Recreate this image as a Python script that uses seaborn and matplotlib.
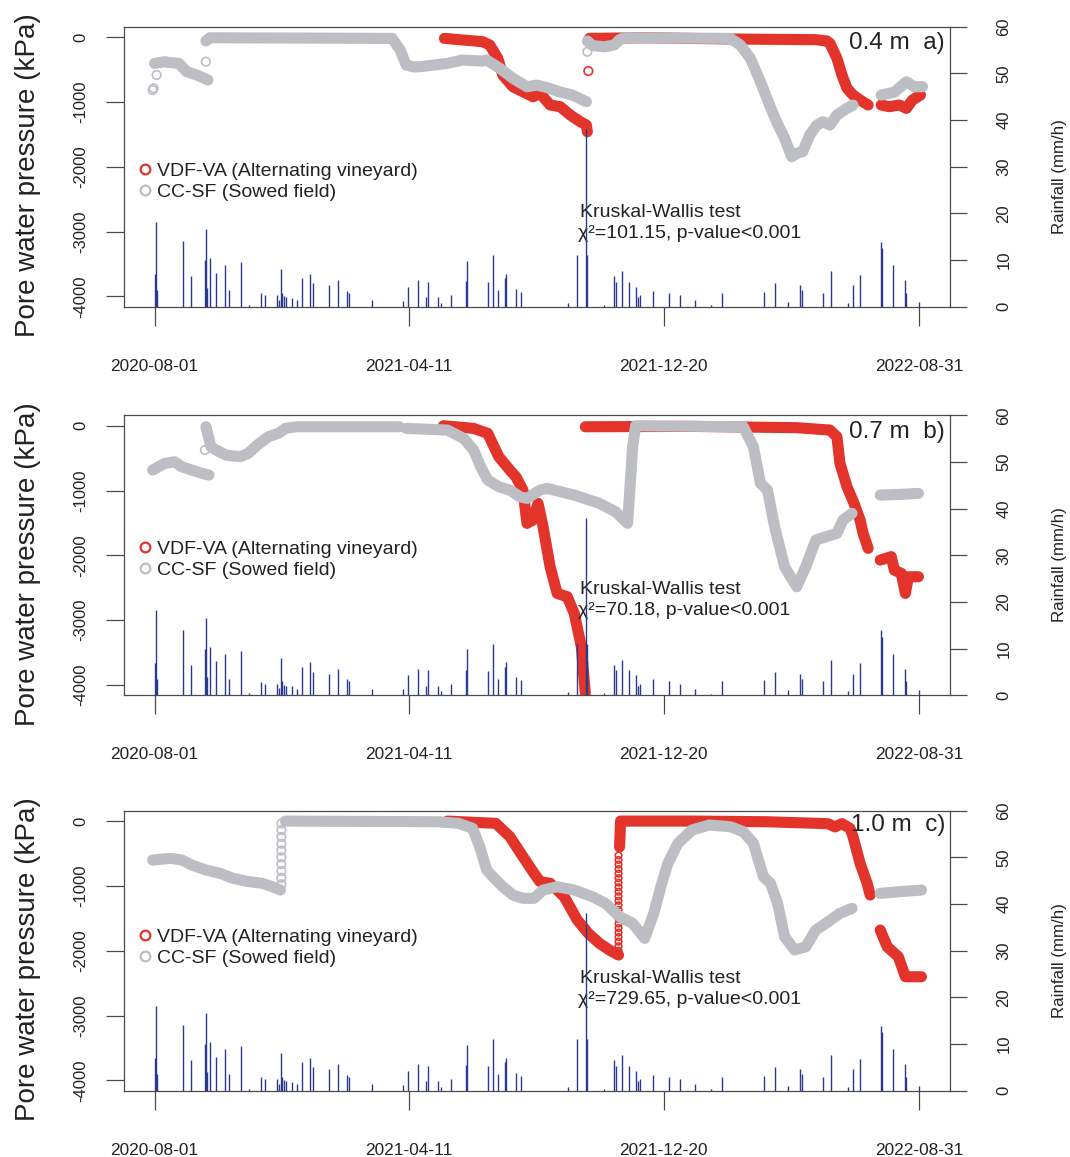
import numpy as np
import pandas as pd
import matplotlib
matplotlib.use("Agg")
import matplotlib.pyplot as plt
from matplotlib.lines import Line2D
import seaborn as sns

sns.set_theme(style="ticks")
plt.rcParams["font.family"] = ["Liberation Sans", "DejaVu Sans"]

nan = np.nan

# ---------------------------------------------------------------- labels
depth_labels = ["0.4 m  a)", "0.7 m  b)", "1.0 m  c)"]
kw_chi2 = ["101.15", "70.18", "729.65"]
series_names = ["VDF-VA (Alternating vineyard)", "CC-SF (Sowed field)"]
date_ticks = ["2020-08-01", "2021-04-11", "2021-12-20", "2022-08-31"]
kpa_ticks = [0, -1000, -2000, -3000, -4000]
rain_ticks = [0, 10, 20, 30, 40, 50, 60]

# ---------------------------------------------------------------- rainfall (mm/h)
rain_dates = [
    "2020-08-01", "2020-08-02", "2020-08-03", "2020-08-29", "2020-09-06", "2020-09-20",
    "2020-09-21", "2020-09-22", "2020-09-25", "2020-10-01", "2020-10-10", "2020-10-14",
    "2020-10-26", "2020-11-03", "2020-11-15", "2020-11-19", "2020-12-01", "2020-12-03",
    "2020-12-05", "2020-12-06", "2020-12-08", "2020-12-10", "2020-12-16", "2020-12-20",
    "2020-12-25", "2021-01-02", "2021-01-05", "2021-01-21", "2021-01-30", "2021-02-08",
    "2021-02-10", "2021-03-05", "2021-04-05", "2021-04-10", "2021-04-20", "2021-04-28",
    "2021-04-30", "2021-05-10", "2021-05-13", "2021-05-23", "2021-06-06", "2021-06-07",
    "2021-06-28", "2021-07-03", "2021-07-08", "2021-07-15", "2021-07-16", "2021-07-26",
    "2021-07-31", "2021-09-16", "2021-09-25", "2021-10-04", "2021-10-05", "2021-10-22",
    "2021-10-31", "2021-11-02", "2021-11-08", "2021-11-15", "2021-11-22", "2021-11-24",
    "2021-11-26", "2021-12-09", "2021-12-25", "2022-01-05", "2022-01-20", "2022-02-05",
    "2022-02-16", "2022-03-30", "2022-04-09", "2022-04-22", "2022-05-04", "2022-05-06",
    "2022-05-27", "2022-06-04", "2022-06-21", "2022-06-26", "2022-07-03", "2022-07-24",
    "2022-07-25", "2022-08-05", "2022-08-17", "2022-08-18", "2022-08-31",
]
rain_mm = [
    7.0, 18.2, 3.6, 14.1, 6.6, 10.0,
    16.6, 4.0, 10.4, 7.3, 8.9, 3.6,
    9.6, 0.4, 2.9, 2.5, 2.5, 1.5,
    8.0, 3.0, 2.2, 2.0, 1.9, 1.4,
    6.1, 7.1, 5.1, 4.6, 5.7, 3.4,
    3.0, 1.4, 1.3, 4.3, 5.7, 2.0,
    5.4, 2.0, 0.9, 2.5, 5.5, 9.9,
    5.2, 11.1, 3.6, 6.1, 7.1, 3.9,
    3.2, 0.7, 11.1, 38.0, 11.1, 0.4,
    6.6, 5.4, 7.6, 5.4, 4.3, 2.0,
    2.5, 3.4, 3.0, 2.5, 1.4, 0.3,
    3.0, 3.2, 5.1, 1.1, 4.6, 3.6,
    3.0, 7.6, 0.9, 4.6, 6.9, 13.9,
    12.5, 8.9, 5.7, 3.0, 1.1,
]

# ---------------------------------------------------------------- pore water pressure (kPa)
# None / nan mark a gap in the record
va_04_dates = [
    "2021-05-16", "2021-06-23", "2021-06-30", "2021-07-08", "2021-07-13", "2021-07-23",
    "2021-08-02", "2021-08-12", "2021-08-19", "2021-08-29", "2021-09-08", "2021-09-18",
    "2021-09-28", "2021-10-04", "2021-10-05", None,
    "2021-10-07", "2021-12-01", "2022-03-01", "2022-05-20", "2022-05-31", "2022-06-03",
    "2022-06-10", "2022-06-15", "2022-06-20", "2022-06-26", "2022-07-03", "2022-07-11", None,
    "2022-07-24", "2022-08-01", "2022-08-11", "2022-08-18", "2022-08-24", "2022-09-01",
]
va_04_kpa = [
    -20, -71, -122, -328, -585, -766,
    -843, -920, -868, -1048, -1074, -1202,
    -1306, -1357, -1460, nan,
    -20, -10, -30, -40, -60, -96,
    -328, -585, -790, -894, -971, -1048, nan,
    -1048, -1074, -1048, -1100, -971, -894,
]
va_04_open_dates = ["2021-10-06"]
va_04_open_kpa = [-524]

sf_04_dates = [
    "2020-08-01", "2020-08-11", "2020-08-17", "2020-08-25", "2020-09-02", "2020-09-07",
    "2020-09-12", "2020-09-23", None,
    "2020-09-21", "2020-09-25", "2021-03-25", "2021-04-02", "2021-04-08", "2021-04-15",
    "2021-04-22", "2021-05-06", "2021-05-19", "2021-06-03", "2021-06-22", "2021-06-27",
    "2021-07-10", "2021-07-23", "2021-08-06", "2021-08-16", "2021-08-26", "2021-09-07",
    "2021-09-20", "2021-10-04", None,
    "2021-10-05", "2021-10-10", "2021-10-22", "2021-11-01", "2021-11-06", "2021-11-11",
    "2022-02-24", "2022-03-06", "2022-03-16", "2022-03-26", "2022-04-04", "2022-04-11",
    "2022-04-19", "2022-04-26", "2022-05-01", "2022-05-07", "2022-05-14", "2022-05-21",
    "2022-05-27", "2022-06-03", "2022-06-10", "2022-06-20", "2022-06-26", None,
    "2022-07-24", "2022-08-06", "2022-08-18", "2022-08-26", "2022-09-03",
]
sf_04_kpa = [
    -405, -380, -395, -405, -534, -560,
    -585, -662, nan,
    -60, -10, -20, -200, -431, -460,
    -457, -430, -405, -354, -370, -354,
    -482, -636, -766, -740, -780, -843,
    -894, -997, nan,
    -60, -130, -150, -120, -40, -10,
    -20, -122, -328, -689, -1048, -1306,
    -1562, -1846, -1793, -1767, -1511, -1357,
    -1306, -1357, -1202, -1100, -1048, nan,
    -894, -850, -689, -766, -766,
]
sf_04_open_dates = ["2020-07-30", "2020-07-31", "2020-08-03", "2020-09-21", "2021-10-05"]
sf_04_open_kpa = [-817, -790, -585, -380, -226]

va_07_dates = [
    "2021-05-15", "2021-06-14", "2021-06-28", "2021-07-09", "2021-07-20", "2021-07-26",
    "2021-08-02", "2021-08-06", "2021-08-12", "2021-08-16", "2021-08-17", "2021-08-22",
    "2021-08-29", "2021-09-05", "2021-09-15", "2021-09-22", "2021-09-29", "2021-10-03", None,
    "2021-10-03", "2022-01-15", "2022-05-01", "2022-06-03", "2022-06-10", "2022-06-13",
    "2022-06-20", "2022-06-27", "2022-07-03", "2022-07-06", "2022-07-11", None,
    "2022-07-23", "2022-08-03", "2022-08-06", "2022-08-13", "2022-08-17", "2022-08-20",
    "2022-08-30",
]
va_07_kpa = [
    0, -41, -118, -479, -684, -787,
    -993, -1506, -1455, -1250, -1198, -1560,
    -2176, -2587, -2638, -2895, -3410, -4130, nan,
    -16, -10, -30, -67, -170, -581,
    -941, -1198, -1455, -1661, -1892, nan,
    -2073, -2020, -2227, -2278, -2587, -2330,
    -2330,
]
va_07_open_dates = []
va_07_open_kpa = []

sf_07_dates = [
    "2020-07-30", "2020-08-11", "2020-08-21", "2020-08-28", "2020-09-07", "2020-09-17",
    "2020-09-24", None,
    "2020-09-21", "2020-09-26", "2020-10-01", "2020-10-11", "2020-10-25", "2020-11-02",
    "2020-11-11", "2020-11-22", "2020-12-02", "2020-12-09", "2020-12-20", "2021-04-01", None,
    "2021-04-08", "2021-05-19", "2021-06-04", "2021-06-14", "2021-06-21", "2021-06-28",
    "2021-07-09", "2021-07-20", "2021-07-30", "2021-08-06", "2021-08-19", "2021-08-26",
    "2021-09-22", "2021-10-17", "2021-11-02", "2021-11-14", "2021-11-19", "2021-11-22",
    "2022-03-09", "2022-03-19", "2022-03-26", "2022-04-02", "2022-04-09", "2022-04-19",
    "2022-05-01", "2022-05-10", "2022-05-20", "2022-05-30", "2022-06-10", "2022-06-16",
    "2022-06-25", None,
    "2022-07-23", "2022-08-11", "2022-08-30",
]
sf_07_kpa = [
    -684, -581, -556, -633, -684, -735,
    -761, nan,
    -16, -324, -375, -453, -479, -426,
    -298, -170, -118, -41, -16, -16, nan,
    -41, -67, -195, -375, -633, -838,
    -941, -993, -1096, -1121, -993, -967,
    -1070, -1198, -1327, -1506, -324, 0,
    -16, -324, -889, -993, -1556, -2176,
    -2485, -2176, -1764, -1713, -1661, -1455,
    -1352, nan,
    -1070, -1060, -1044,
]
sf_07_open_dates = ["2020-09-20"]
sf_07_open_kpa = [-375]

va_10_dates = [
    "2021-05-19", "2021-07-06", "2021-07-20", "2021-08-02", "2021-08-13", "2021-08-19",
    "2021-08-29", "2021-09-12", "2021-09-25", "2021-10-06", "2021-10-17", "2021-10-27",
    "2021-11-05", None,
    "2021-11-06", "2021-11-07", "2022-01-15", "2022-04-01", "2022-06-01", "2022-06-08",
    "2022-06-15", "2022-06-23", "2022-06-26", "2022-07-03", "2022-07-10", "2022-07-13", None,
    "2022-07-23", "2022-07-30", "2022-08-10", "2022-08-17", "2022-08-23", "2022-09-02",
]
va_10_kpa = [
    0, -35, -241, -549, -806, -934,
    -960, -1167, -1526, -1732, -1887, -1990,
    -2067, nan,
    -400, 0, 0, -10, -40, -90,
    -40, -112, -241, -652, -960, -1141, nan,
    -1681, -1939, -2093, -2402, -2402, -2402,
]
va_10_open_dates = ["2021-11-05"] * 22
va_10_open_kpa = [-2000, -1930, -1860, -1790, -1720, -1650, -1580, -1510, -1440, -1370, -1300,
                  -1230, -1160, -1090, -1020, -950, -880, -810, -740, -670, -600, -530]

sf_10_dates = [
    "2020-07-30", "2020-08-17", "2020-08-28", "2020-09-07", "2020-09-21", "2020-10-05",
    "2020-10-18", "2020-11-02", "2020-11-16", "2020-11-26", "2020-12-04", None,
    "2020-12-09", "2021-05-09", "2021-05-30", "2021-06-13", "2021-06-20", "2021-06-27",
    "2021-07-03", "2021-07-13", "2021-07-23", "2021-08-02", "2021-08-13", "2021-08-22",
    "2021-09-05", "2021-09-22", "2021-10-10", "2021-10-23", "2021-11-06", "2021-11-19",
    "2021-12-01", "2021-12-10", "2021-12-17", "2021-12-24", "2022-01-03", "2022-01-17",
    "2022-02-03", "2022-02-24", "2022-03-09", "2022-03-19", "2022-03-29", "2022-04-05",
    "2022-04-12", "2022-04-19", "2022-04-29", "2022-05-10", "2022-05-20", "2022-05-30",
    "2022-06-13", "2022-06-25", None,
    "2022-07-23", "2022-08-11", "2022-09-02",
]
sf_10_kpa = [
    -601, -575, -601, -678, -755, -806,
    -883, -934, -960, -1013, -1064, nan,
    0, -10, -35, -112, -395, -755,
    -858, -1013, -1141, -1192, -1192, -1064,
    -1013, -1064, -1167, -1269, -1475, -1578,
    -1809, -1423, -1013, -652, -343, -138,
    -61, -87, -164, -343, -858, -960,
    -1269, -1784, -1990, -1939, -1681, -1578,
    -1423, -1346, nan,
    -1115, -1090, -1064,
]
sf_10_open_dates = ["2020-12-05"] * 10
sf_10_open_kpa = [-35, -140, -245, -350, -455, -560, -665, -770, -875, -975]

# ---------------------------------------------------------------- styling
RED = "#e2342a"
GREY = "#bcbec3"
RAIN = "#2a3b8f"
FRAME = "#4a4a4a"
TEXT = "#222222"

panels = [
    dict(va=(va_04_dates, va_04_kpa), va_open=(va_04_open_dates, va_04_open_kpa),
         sf=(sf_04_dates, sf_04_kpa), sf_open=(sf_04_open_dates, sf_04_open_kpa),
         bottom=0.7349, legend_top=0.517, kw_y=(0.338, 0.263), tag_y=0.942),
    dict(va=(va_07_dates, va_07_kpa), va_open=(va_07_open_dates, va_07_open_kpa),
         sf=(sf_07_dates, sf_07_kpa), sf_open=(sf_07_open_dates, sf_07_open_kpa),
         bottom=0.3990, legend_top=0.555, kw_y=(0.378, 0.303), tag_y=0.942),
    dict(va=(va_10_dates, va_10_kpa), va_open=(va_10_open_dates, va_10_open_kpa),
         sf=(sf_10_dates, sf_10_kpa), sf_open=(sf_10_open_dates, sf_10_open_kpa),
         bottom=0.0573, legend_top=0.581, kw_y=(0.4025, 0.3275), tag_y=0.950),
]


def series_frame(dates, values):
    df = pd.DataFrame({"date": pd.to_datetime(pd.Series(dates, dtype=object)),
                       "kpa": pd.Series(values, dtype=float)})
    df["seg"] = df["kpa"].isna().cumsum()
    return df.dropna()


t0 = pd.Timestamp(date_ticks[0])
t1 = pd.Timestamp(date_ticks[-1])
pad = (t1 - t0) * 0.04
xlim = (t0 - pad, t1 + pad)

rain_df = pd.DataFrame({"date": pd.to_datetime(rain_dates), "mm": rain_mm})

fig = plt.figure(figsize=(10.70, 11.57), dpi=100)

for k, p in enumerate(panels):
    ax = fig.add_axes([0.1159, p["bottom"], 0.772, 0.2420])

    for key, col in (("va", RED), ("sf", GREY)):
        df = series_frame(*p[key])
        sns.lineplot(data=df, x="date", y="kpa", units="seg", estimator=None,
                     color=col, lw=8, solid_capstyle="round", solid_joinstyle="round",
                     legend=False, ax=ax)
        od, ov = p[key + "_open"]
        if len(od):
            size = 22 if len(od) > 12 else 38
            sns.scatterplot(x=pd.to_datetime(od), y=ov, marker="o", s=size,
                            facecolor="none", edgecolor=col, linewidth=1.2,
                            legend=False, ax=ax)

    ax.set_xlim(*xlim)
    ax.set_ylim(-4160, 160)
    ax.set_xlabel("")
    ax.set_ylabel("Pore water pressure (kPa)", fontsize=20, color=TEXT)
    ax.yaxis.set_label_coords(-0.100, 0.47)

    ax.set_xticks(pd.to_datetime(date_ticks))
    ax.set_xticklabels(date_ticks, fontsize=12.4, color=TEXT)
    ax.set_yticks(kpa_ticks)
    ax.set_yticklabels([str(v) for v in kpa_ticks], fontsize=12, color=TEXT,
                       rotation=90, va="center")
    ax.tick_params(axis="x", direction="out", length=13.5, width=0.9, pad=24,
                   color=FRAME)
    ax.tick_params(axis="y", direction="out", length=13, width=0.9, pad=12.5,
                   color=FRAME)
    for sp in ax.spines.values():
        sp.set_visible(True)
        sp.set_color(FRAME)
        sp.set_linewidth(0.9)

    # rainfall on the secondary axis
    ax2 = ax.twinx()
    ax2.vlines(rain_df["date"], 0, rain_df["mm"], color=RAIN, lw=1.0)
    ax2.set_ylim(0, 60)
    ax2.set_xlim(*xlim)
    ax2.set_yticks(rain_ticks)
    ax2.set_yticklabels([str(v) for v in rain_ticks], fontsize=12, color=TEXT,
                        rotation=90, va="center")
    ax2.tick_params(axis="y", direction="out", length=12.5, width=0.9, pad=21,
                    color=FRAME)
    for sp in ax2.spines.values():
        sp.set_visible(False)
    ax2.set_ylabel("Rainfall (mm/h)", fontsize=12.2, color=TEXT)
    ax2.yaxis.set_label_coords(1.1235, 0.466)

    # legend
    handles = [
        Line2D([], [], ls="", marker="o", ms=7, mfc="none", mec=RED, mew=1.6),
        Line2D([], [], ls="", marker="o", ms=7, mfc="none", mec=GREY, mew=1.6),
    ]
    leg = ax.legend(handles, series_names, loc="upper left",
                    bbox_to_anchor=(0.018, p["legend_top"]), frameon=False,
                    fontsize=14, handlelength=0.6, handletextpad=0.33,
                    labelspacing=0.2, borderpad=0, borderaxespad=0)
    for t in leg.get_texts():
        t.set_color(TEXT)

    ax.text(0.994, p["tag_y"], depth_labels[k], transform=ax.transAxes,
            ha="right", va="center", fontsize=17.5, color=TEXT)
    ax.text(0.552, p["kw_y"][0], "Kruskal-Wallis test", transform=ax.transAxes,
            ha="left", va="center", fontsize=14, color=TEXT)
    ax.text(0.550, p["kw_y"][1], "\u03c7\u00b2=" + kw_chi2[k] + ", p-value<0.001",
            transform=ax.transAxes, ha="left", va="center", fontsize=14, color=TEXT)

fig.savefig("out.png", dpi=100, facecolor="white")
